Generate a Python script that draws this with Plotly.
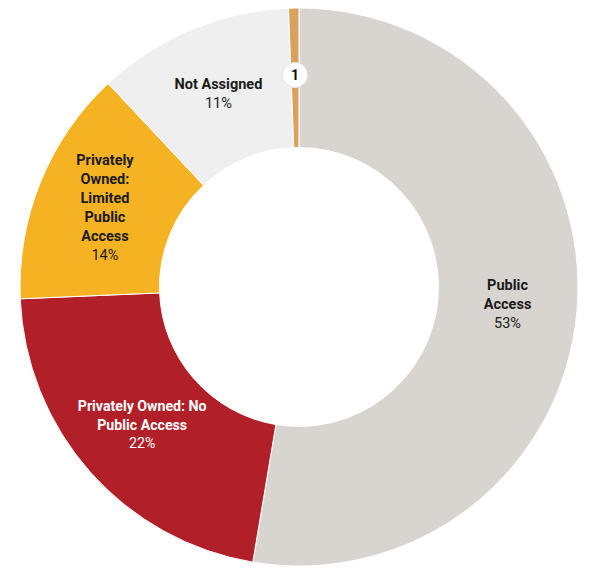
import math
import plotly.graph_objects as go

# slices, clockwise from 12 o'clock
labels = ["Public Access", "Privately Owned: No Public Access",
          "Privately Owned: Limited Public Access", "Not Assigned", "Other"]
display_names = ["Public<br>Access", "Privately Owned: No<br>Public Access",
                 "Privately<br>Owned:<br>Limited<br>Public<br>Access", "Not Assigned", ""]
values = [52.7, 21.7, 13.7, 11.4, 0.6]
colors = ["#d8d4cf", "#b11f29", "#f5b324", "#efefef", "#d9a15e"]
text_colors = ["#1a1a1a", "#ffffff", "#1a1a1a", "#1a1a1a", "#1a1a1a"]
small_label = "1"

W, H = 590, 568
ml, mr, mt, mb = 12, 20, 0, 10

fig = go.Figure(go.Pie(
    labels=labels,
    values=values,
    text=display_names,
    hole=0.5,
    sort=False,
    direction="clockwise",
    rotation=0,
    marker=dict(colors=colors, line=dict(color="white", width=1)),
    texttemplate=["<b>%{text}</b><br>%{percent:.0%}"] * 4 + [""],
    textposition="inside",
    insidetextorientation="horizontal",
    textfont=dict(family="Roboto", size=14.5, color=text_colors),
    showlegend=False,
    hoverinfo="label+percent",
))

# "1" bubble on the tiny slice, placed at the slice's mid angle / mid radius
tot = sum(values)
mid = (sum(values[:-1]) + values[-1] / 2) / tot * 2 * math.pi
pw, ph = W - ml - mr, H - mt - mb
R = min(pw, ph) / 2
r = R * 0.76
cx, cy = ml + pw / 2, mt + ph / 2
bx = cx + r * math.sin(mid)
by = cy - r * math.cos(mid)
px_ = (bx - ml) / pw
py_ = 1 - (by - mt) / ph
rad = 12.5
fig.add_shape(type="circle", xref="paper", yref="paper",
              x0=px_ - rad / pw, x1=px_ + rad / pw,
              y0=py_ - rad / ph, y1=py_ + rad / ph,
              fillcolor="white", line=dict(color="#e8e8e8", width=1))
fig.add_annotation(x=px_, y=py_, xref="paper", yref="paper", text="<b>%s</b>" % small_label,
                   xanchor="center", yanchor="middle", showarrow=False,
                   font=dict(family="Roboto", size=14, color="#111111"))

fig.update_layout(
    width=W, height=H,
    margin=dict(l=ml, r=mr, t=mt, b=mb),
    paper_bgcolor="white",
    plot_bgcolor="white",
    font=dict(family="Roboto"),
)

fig.write_html("out.html")
